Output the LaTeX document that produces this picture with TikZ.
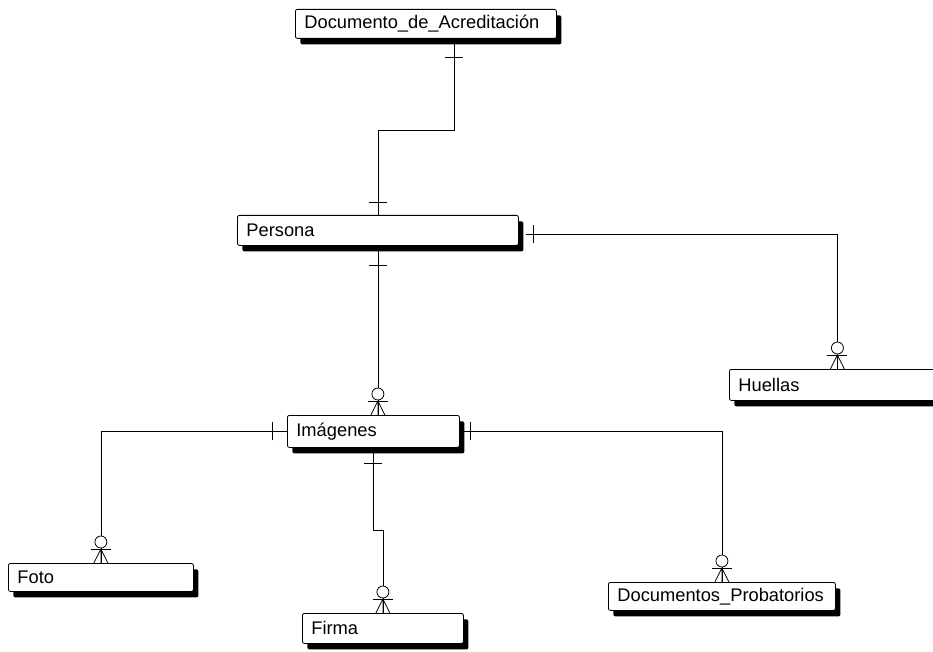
\documentclass[tikz,border=0pt]{standalone}
\usepackage{fontspec}
\setmainfont{Liberation Sans}
\usetikzlibrary{shadows,calc}

\begin{document}
\begin{tikzpicture}[
  x=1pt, y=-1pt,
  font=\fontsize{18.3}{20}\selectfont,
  entity/.style={draw=black, line width=0.8pt, fill=white, rounded corners=2pt,
                 anchor=north west, align=left, inner xsep=9pt, inner ysep=3pt,
                 drop shadow={shadow xshift=5pt, shadow yshift=-6pt, fill=black, opacity=1}},
  conn/.style={draw=black, line width=0.8pt},
]
\useasboundingbox (0,0) rectangle (933,652);
% ---------- entities ----------
\node[entity, minimum height=29pt, text width=243pt] (docacred) at (295,9) {Documento\_de\_Acreditación};
\node[entity, minimum height=30pt, text width=263pt] (persona) at (237,215) {Persona};
\node[entity, minimum height=32pt, text width=154pt] (imagenes) at (287,415) {Imágenes};
\node[entity, minimum height=31pt, text width=198pt] (huellas) at (729,369) {Huellas};
\node[entity, minimum height=28pt, text width=167pt] (foto) at (8,563) {Foto};
\node[entity, minimum height=30pt, text width=143pt] (firma) at (302,613) {Firma};
\node[entity, minimum height=28pt, text width=209pt] (docprob) at (608,582) {Documentos\_Probatorios};
% ---------- relationships ----------
\coordinate (a1) at ([xshift=28pt]docacred.south);
\coordinate (a3) at ([xshift=7pt,yshift=-4pt]persona.east);
\draw[conn] (a1) -- ++(0,92) -| (persona.north);
\draw[conn] (persona.south) -- (persona.south |- imagenes.north);
\draw[conn] (a3) -| (huellas.north);
\draw[conn] (imagenes.west) -| (foto.north);
\draw[conn] (imagenes.south) -- ++(0,83) -| (firma.north);
\draw[conn] (imagenes.east) -| (docprob.north);
% one-side bars
\coordinate (b1) at ([yshift=-19pt]a1);
\coordinate (b2) at ([yshift=13pt]persona.north);
\coordinate (b3) at ([yshift=-20pt]persona.south);
\coordinate (b4) at ([yshift=-16pt]imagenes.south);
\coordinate (b5) at ([xshift=8pt]a3);
\coordinate (b6) at ([xshift=-15pt]imagenes.west);
\coordinate (b7) at ([xshift=11pt]imagenes.east);
\foreach \b in {b1,b2,b3,b4}
  \draw[conn] ([xshift=-9pt]\b) -- ([xshift=9pt]\b);
\foreach \b in {b5,b6,b7}
  \draw[conn] ([yshift=-9pt]\b) -- ([yshift=9pt]\b);
% many-side crow feet
\coordinate (c1) at (persona.south |- imagenes.north);
\foreach \c in {c1,huellas.north,foto.north,firma.north,docprob.north}{
  \draw[conn] ([yshift=14pt]\c) -- ([xshift=-7pt]\c)
              ([yshift=14pt]\c) -- (\c)
              ([yshift=14pt]\c) -- ([xshift=7pt]\c);
  \draw[conn] ([xshift=-10pt,yshift=14pt]\c) -- ([xshift=10pt,yshift=14pt]\c);
  \draw[conn, fill=white] ([yshift=21pt]\c) circle (6pt);
}
\end{tikzpicture}
\end{document}
